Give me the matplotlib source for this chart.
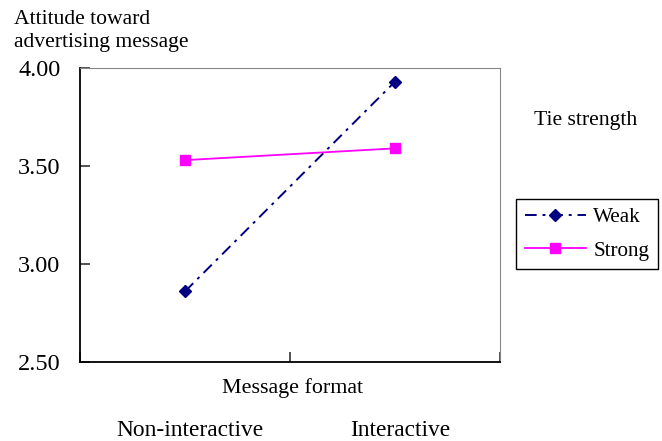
import matplotlib.pyplot as plt

plt.rcParams['font.family'] = ['Liberation Serif', 'DejaVu Serif']

# message format conditions and mean attitude scores
formats = ['Non-interactive', 'Interactive']
weak = [2.86, 3.93]
strong = [3.53, 3.59]

fig = plt.figure(figsize=(6.62, 4.41), dpi=100)
ax = fig.add_axes([0.1208, 0.1791, 0.6344, 0.6667])

xpos = [0.5, 1.5]
ax.plot(xpos, weak, color='#000080', linestyle=(0, (6, 3, 1.5, 3)), linewidth=1.4,
        marker='D', markersize=6, label='Weak')
ax.plot(xpos, strong, color='#FF00FF', linestyle='-', linewidth=1.3,
        marker='s', markersize=7, label='Strong')

ax.set_xlim(0, 2)
ax.set_ylim(2.5, 4.0)
ax.set_yticks([2.5, 3.0, 3.5, 4.0])
ax.set_yticklabels(['2.50', '3.00', '3.50', '4.00'], fontsize=17.5)
ax.set_xticks([0, 1, 2])
ax.set_xticklabels([])
ax.tick_params(direction='in', length=7, width=1.2, color='#333333')
ax.tick_params(axis='y', pad=14)

for side in ['top', 'right']:
    ax.spines[side].set_color('#888888')
for side in ['left', 'bottom']:
    ax.spines[side].set_color('black')
    ax.spines[side].set_linewidth(1.3)

# axis titles
fig.text(14 / 662, 1 - 31 / 441, 'Attitude toward\nadvertising message', fontsize=15.6,
         ha='left', va='center', linespacing=1.32)
fig.text(292 / 662, 1 - 388 / 441, 'Message format', fontsize=15.8, ha='center', va='center')
for xf, lab in zip([190, 400], formats):
    fig.text(xf / 662, 1 - 430 / 441, lab, fontsize=16.8, ha='center', va='center')

fig.text(586 / 662, 1 - 121 / 441, 'Tie strength', fontsize=15.6, ha='center', va='center')

leg = fig.legend(loc='center', bbox_to_anchor=(587 / 662, 1 - 234 / 441), fontsize=15.2,
                 frameon=True, fancybox=False, edgecolor='black', framealpha=1,
                 handlelength=2.9, borderpad=0.4, labelspacing=0.65, handletextpad=0.35,
                 borderaxespad=0)
leg.get_frame().set_linewidth(1.0)

fig.savefig('out.png', dpi=100)
